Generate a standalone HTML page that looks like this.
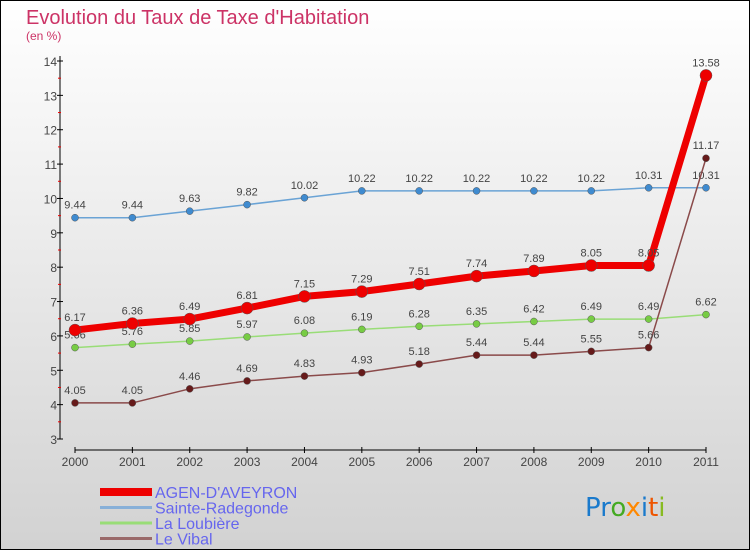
<!DOCTYPE html>
<html><head><meta charset="utf-8"><style>
body{margin:0}
svg{display:block;font-family:"Liberation Sans",sans-serif}
</style></head><body>
<svg width="750" height="550">
<defs><linearGradient id="bg" x1="0" y1="0" x2="0" y2="1"><stop offset="0" stop-color="#ffffff"/><stop offset="1" stop-color="#d2d2d2"/></linearGradient></defs>
<rect x="0.5" y="0.5" width="749" height="549" fill="url(#bg)" stroke="#000"/>
<text x="26" y="24" font-size="20" fill="#cc3366">Evolution du Taux de Taxe d'Habitation</text>
<text x="26" y="40" font-size="12" fill="#cc3366">(en %)</text>
<g id="axes"></g>
<g id="series"></g>
<g id="legend"></g>
<text x="585" y="516" font-size="26" font-family="'DejaVu Sans',sans-serif"><tspan fill="#1a7acc">Pr</tspan><tspan fill="#44aa22">o</tspan><tspan fill="#ff8800">x</tspan><tspan fill="#1a7acc">i</tspan><tspan fill="#ee5500">t</tspan><tspan fill="#88bb22">i</tspan></text>
</svg>
<script>
const years=["2000","2001","2002","2003","2004","2005","2006","2007","2008","2009","2010","2011"];
const yTicks=[3,4,5,6,7,8,9,10,11,12,13,14];
const agen=[6.17,6.36,6.49,6.81,7.15,7.29,7.51,7.74,7.89,8.05,8.05,13.58];
const sainte=[9.44,9.44,9.63,9.82,10.02,10.22,10.22,10.22,10.22,10.22,10.31,10.31];
const loubiere=[5.66,5.76,5.85,5.97,6.08,6.19,6.28,6.35,6.42,6.49,6.49,6.62];
const vibal=[4.05,4.05,4.46,4.69,4.83,4.93,5.18,5.44,5.44,5.55,5.66,11.17];
const NS="http://www.w3.org/2000/svg";
const X=i=>75+i*(706-75)/(years.length-1);
const Y=v=>439-(v-3)*(439-61)/11;
function mk(tag,attrs,parent,txt){const e=document.createElementNS(NS,tag);for(const k in attrs)e.setAttribute(k,attrs[k]);if(txt!==undefined)e.textContent=txt;parent.appendChild(e);return e;}
const ax=document.getElementById('axes');
let yl=mk('line',{x1:60,y1:56,x2:60,y2:439,stroke:'#000'},ax);


yTicks.forEach(t=>{
  mk('line',{x1:57,x2:63,y1:Y(t),y2:Y(t),stroke:'#000'},ax);
  if(t<14) mk('line',{x1:58,x2:61,y1:Y(t+0.5),y2:Y(t+0.5),stroke:'#e00'},ax);
  const l=mk('text',{x:57,y:Y(t)+5,'font-size':12,fill:'#444','text-anchor':'end'},ax,t);
  
  
});
let xl=mk('line',{x1:75,y1:450,x2:706,y2:450,stroke:'#000'},ax);


years.forEach((y,i)=>{
  mk('line',{x1:X(i),x2:X(i),y1:447,y2:453,stroke:'#000'},ax);
  const l=mk('text',{x:X(i),y:466,'font-size':12,fill:'#444','text-anchor':'middle'},ax,y);
  
  
});
const sg=document.getElementById('series');
function series(vals,color,dot,w,r,name){
  const g=mk('g',{},sg);
  
  
  mk('polyline',{points:vals.map((v,i)=>X(i)+','+Y(v)).join(' '),fill:'none',stroke:color,'stroke-width':w,'stroke-linejoin':'round'},g);
  vals.forEach((v,i)=>{
    const c=mk('circle',{cx:X(i),cy:Y(v),r:r,fill:dot,stroke:'#555','stroke-width':0.5},g);
    
    
    mk('text',{x:X(i),y:Y(v)-9,'font-size':11,fill:'#444','text-anchor':'middle'},g,v.toFixed(2).replace(/0$/,'').replace(/\.$/,''));
  });
}
series(sainte,'#6aa3d5','#3f8bd0',1.5,3.5,'sainte-radegonde-series');
series(loubiere,'#99dd77','#77cc44',1.5,3.5,'la-loubiere-series');
series(vibal,'#8a4a4a','#661a1a',1.5,3.5,'le-vibal-series');
series(agen,'#ee0000','#ee0000',7,6,'agen-daveyron-series');
const lg=document.getElementById('legend');
const names=["AGEN-D'AVEYRON","Sainte-Radegonde","La Loubière","Le Vibal"];
const cols=['#ee0000','#88b0d8','#99dd77','#9a6a6a'];
const ws=[8,3,3,3];
names.forEach((n,i)=>{
  const yy=492+i*15.5;
  const e=mk('line',{x1:100,x2:152,y1:yy,y2:yy,stroke:cols[i],'stroke-width':ws[i]},lg);
  
  
  const t=mk('text',{x:155,y:yy+6,'font-size':16,fill:'#6666ee'},lg,n);
  
  
});
</script>
</body></html>
